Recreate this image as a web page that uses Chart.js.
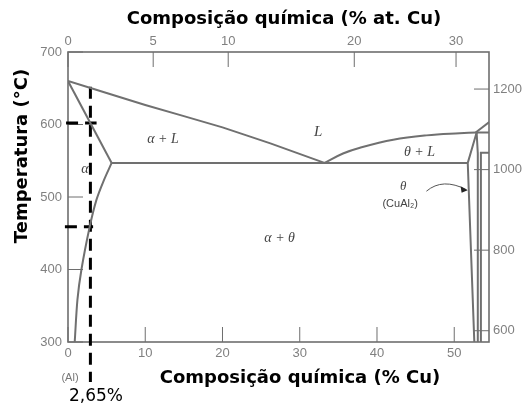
<!DOCTYPE html>
<html>
<head>
<meta charset="utf-8">
<title>Diagrama de fases Al-Cu</title>
<script src="https://cdn.jsdelivr.net/npm/chart.js@4.4.1/dist/chart.umd.min.js"></script>
<style>
  html, body { margin: 0; padding: 0; background: #fff; }
  #wrap { width: 527px; height: 410px; }
</style>
</head>
<body>
<div id="wrap"><canvas id="phaseChart" width="527" height="410"></canvas></div>
<script>
// Axis ticks
const wtTicks = [0, 10, 20, 30, 40, 50];
const atTicks = [0, 5, 10, 20, 30];
const tempTicks = [300, 400, 500, 600, 700];
const fahrTicks = [600, 800, 1000, 1200];

// Phase boundaries (x = % Cu em peso, y = °C)
const liqAlX = [0, 10, 20, 26.2, 33.2];
const liqAlY = [660, 627, 596, 574, 547];
const solAlX = [0, 5.65];
const solAlY = [660, 547];
const solvusX = [5.65, 4.6, 3.68, 2.81, 1.74, 1.22, 0.87];
const solvusY = [547, 522, 496, 459, 400, 358, 300];
const eutX = [5.65, 51.75];
const eutY = [547, 547];
const liqCuX = [33.2, 35.6, 37.8, 42.1, 46.4, 50.7, 52.9, 54.53];
const liqCuY = [547, 560, 568, 579, 585, 588, 589, 589];
const thetaLX = [52.9, 51.75, 52.6];
const thetaLY = [589, 547, 300];
const thetaRX = [52.9, 53.05, 53.05];
const thetaRY = [589, 560, 300];
const etaX = [54.53, 53.45, 53.45];
const etaY = [561, 561, 300];
const diagX = [52.77, 54.53];
const diagY = [589, 603.5];

// Linhas tracejadas da liga 2,65%
const guideVX = [2.9, 2.9];
const guideVY = [652, 245];
const guideH1X = [-0.25, 3.7];
const guideH1Y = [602, 602];
const guideH2X = [-0.4, 3.25];
const guideH2Y = [459, 459];

const lineColor = 'rgb(112,112,112)';
const frameColor = 'rgb(110,110,110)';

function pts(xs, ys) {
    return xs.map((x, i) => ({ x: x, y: ys[i] }));
}

function boundary(xs, ys, tension) {
    return {
        data: pts(xs, ys),
        showLine: true,
        borderColor: lineColor,
        borderWidth: 2,
        pointRadius: 0,
        tension: tension || 0
    };
}

function guide(xs, ys) {
    return {
        data: pts(xs, ys),
        showLine: true,
        borderColor: '#000',
        borderWidth: 3,
        borderDash: [12, 7],
        pointRadius: 0,
        clip: false
    };
}

function atToWt(at) {
    const cu = at * 63.546;
    const al = (100 - at) * 26.982;
    return cu / (cu + al) * 100;
}

function fToC(f) {
    return (f - 32) / 1.8;
}

// Texto dentro do diagrama
const regionLabels = [
    { text: 'α + L', x: 12.3, y: 580, font: 'italic 14px "Liberation Serif"' },
    { text: 'L', x: 32.4, y: 589, font: 'italic 15px "Liberation Serif"' },
    { text: 'θ + L', x: 45.5, y: 561, font: 'italic 14px "Liberation Serif"' },
    { text: 'α', x: 2.2, y: 538, font: 'italic 14px "Liberation Serif"' },
    { text: 'α + θ', x: 27.4, y: 443, font: 'italic 14px "Liberation Serif"' },
    { text: 'θ', x: 43.4, y: 514, font: 'italic 13px "Liberation Serif"' },
    { text: '(CuAl₂)', x: 43.0, y: 491, font: '11px "Liberation Sans"' }
];

function strokeLine(ctx, x1, y1, x2, y2) {
    ctx.beginPath();
    ctx.moveTo(x1, y1);
    ctx.lineTo(x2, y2);
    ctx.stroke();
}

const diagramPlugin = {
    id: 'diagram',
    beforeDatasetsDraw(chart) {
        const { ctx, chartArea: a, scales: s } = chart;
        ctx.save();
        ctx.strokeStyle = frameColor;
        ctx.lineWidth = 1.6;
        ctx.strokeRect(a.left, a.top, a.right - a.left, a.bottom - a.top);

        // ticks pointing into the plot
        ctx.lineWidth = 1;
        const len = 15;
        s.x.ticks.forEach(t => {
            const p = s.x.getPixelForValue(t.value);
            strokeLine(ctx, p, a.bottom, p, a.bottom - len);
        });
        s.x2.ticks.forEach(t => {
            const p = s.x2.getPixelForValue(t.value);
            strokeLine(ctx, p, a.top, p, a.top + len);
        });
        s.y.ticks.forEach(t => {
            const p = s.y.getPixelForValue(t.value);
            strokeLine(ctx, a.left, p, a.left + len, p);
        });
        s.y2.ticks.forEach(t => {
            const p = s.y2.getPixelForValue(t.value);
            strokeLine(ctx, a.right, p, a.right - len, p);
        });
        ctx.restore();
    },
    afterDraw(chart) {
        const { ctx, chartArea: a, scales: s } = chart;
        ctx.save();
        ctx.textAlign = 'center';
        ctx.textBaseline = 'middle';

        ctx.fillStyle = '#444';
        regionLabels.forEach(l => {
            ctx.font = l.font;
            ctx.fillText(l.text, s.x.getPixelForValue(l.x), s.y.getPixelForValue(l.y));
        });

        // arrow from the theta label to the phase line
        const x0 = s.x.getPixelForValue(46.4), y0 = s.y.getPixelForValue(508);
        const xc = s.x.getPixelForValue(48.5), yc = s.y.getPixelForValue(527);
        const x1 = s.x.getPixelForValue(51.6), y1 = s.y.getPixelForValue(510);
        ctx.strokeStyle = '#555';
        ctx.lineWidth = 1;
        ctx.beginPath();
        ctx.moveTo(x0, y0);
        ctx.quadraticCurveTo(xc, yc, x1, y1);
        ctx.stroke();
        ctx.fillStyle = '#222';
        ctx.beginPath();
        ctx.moveTo(x1 + 1, y1 + 0.5);
        ctx.lineTo(x1 - 6, y1 - 3.5);
        ctx.lineTo(x1 - 5, y1 + 3);
        ctx.closePath();
        ctx.fill();

        // axis titles
        ctx.fillStyle = '#000';
        ctx.font = 'bold 18px "DejaVu Sans"';
        ctx.fillText('Composição química (% at. Cu)', 284, 19);
        ctx.fillText('Composição química (% Cu)', 300, 378);
        ctx.save();
        ctx.translate(22, 156);
        ctx.rotate(-Math.PI / 2);
        ctx.fillText('Temperatura (°C)', 0, 0);
        ctx.restore();

        ctx.fillStyle = '#777';
        ctx.font = '11px "Liberation Sans"';
        ctx.fillText('(Al)', 70, 378);

        ctx.fillStyle = '#000';
        ctx.font = '17px "DejaVu Sans"';
        ctx.fillText('2,65%', 96, 397);
        ctx.restore();
    }
};

const tickFont = { family: '"Liberation Sans", Arial, sans-serif', size: 13 };
const tickColor = '#808080';

new Chart(document.getElementById('phaseChart'), {
    type: 'scatter',
    data: {
        datasets: [
            boundary(liqAlX, liqAlY, 0.05),
            boundary(solAlX, solAlY),
            boundary(solvusX, solvusY, 0.3),
            boundary(eutX, eutY),
            boundary(liqCuX, liqCuY, 0.4),
            boundary(thetaLX, thetaLY),
            boundary(thetaRX, thetaRY),
            boundary(etaX, etaY),
            boundary(diagX, diagY),
            guide(guideVX, guideVY),
            guide(guideH1X, guideH1Y),
            guide(guideH2X, guideH2Y)
        ]
    },
    options: {
        responsive: false,
        animation: false,
        layout: { padding: 0 },
        plugins: {
            legend: { display: false },
            tooltip: { enabled: false }
        },
        scales: {
            x: {
                type: 'linear',
                position: 'bottom',
                min: 0,
                max: 54.5,
                grid: { display: false, drawTicks: false },
                border: { display: false },
                afterBuildTicks: axis => { axis.ticks = wtTicks.map(v => ({ value: v })); },
                afterFit: axis => { axis.height = 68; },
                ticks: { font: tickFont, color: tickColor, padding: 4, autoSkip: false, maxRotation: 0 }
            },
            x2: {
                type: 'linear',
                position: 'top',
                min: 0,
                max: 54.5,
                grid: { display: false, drawTicks: false },
                border: { display: false },
                afterBuildTicks: axis => { axis.ticks = atTicks.map(v => ({ value: atToWt(v) })); },
                afterFit: axis => { axis.height = 52; },
                ticks: {
                    font: tickFont, color: tickColor, padding: 3, autoSkip: false, maxRotation: 0,
                    callback: (v, i) => atTicks[i]
                }
            },
            y: {
                type: 'linear',
                position: 'left',
                min: 300,
                max: 700,
                grid: { display: false, drawTicks: false },
                border: { display: false },
                afterBuildTicks: axis => { axis.ticks = tempTicks.map(v => ({ value: v })); },
                afterFit: axis => { axis.width = 68; },
                ticks: { font: tickFont, color: tickColor, padding: 6, autoSkip: false }
            },
            y2: {
                type: 'linear',
                position: 'right',
                min: 300,
                max: 700,
                grid: { display: false, drawTicks: false },
                border: { display: false },
                afterBuildTicks: axis => { axis.ticks = fahrTicks.map(v => ({ value: fToC(v) })); },
                afterFit: axis => { axis.width = 38; },
                ticks: {
                    font: tickFont, color: tickColor, padding: 4, autoSkip: false,
                    callback: (v, i) => fahrTicks[i]
                }
            }
        }
    },
    plugins: [diagramPlugin]
});
</script>
</body>
</html>
